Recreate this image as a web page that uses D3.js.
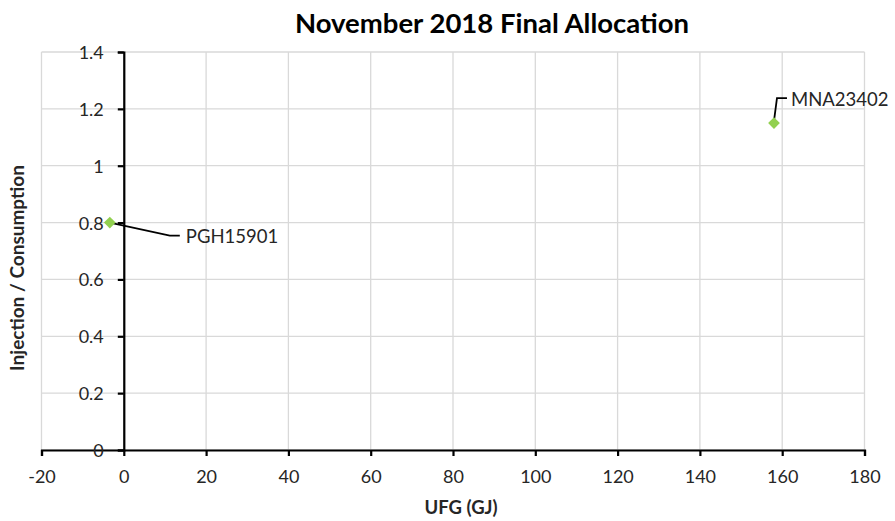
<!DOCTYPE html>
<html><head><meta charset="utf-8">
<script src="https://cdn.jsdelivr.net/npm/d3@7"></script>
<style>body{margin:0;background:#fff;} text{font-family:Lato,"Open Sans",sans-serif;}</style>
</head><body><svg id="c" width="895" height="521"></svg>
<script>
const names = ["PGH15901", "MNA23402"];
const ufg = [-3.4, 158];
const ratio = [0.80, 1.15];
const xTicks = [-20, 0, 20, 40, 60, 80, 100, 120, 140, 160, 180];
const yTicks = [0, 0.2, 0.4, 0.6, 0.8, 1, 1.2, 1.4];

const svg = d3.select("#c");
const x = d3.scaleLinear().domain([-20, 180]).range([41.5, 864.5]);
const y = d3.scaleLinear().domain([0, 1.4]).range([450, 52]);

// grid
svg.append("g").selectAll("line").data(xTicks).join("line")
  .attr("x1", d => x(d)).attr("x2", d => x(d)).attr("y1", y(0)).attr("y2", y(1.4))
  .attr("stroke", "#d9d9d9").attr("stroke-width", 1.3);
svg.append("g").selectAll("line").data(yTicks).join("line")
  .attr("x1", x(-20)).attr("x2", x(180)).attr("y1", d => y(d)).attr("y2", d => y(d))
  .attr("stroke", "#d9d9d9").attr("stroke-width", 1.3);

// axes
const fmt = d => String(+(+d).toFixed(1));
const xAxis = svg.append("g").attr("transform", `translate(0,${y(0)})`)
  .call(d3.axisBottom(x).tickValues(xTicks).tickSize(6).tickPadding(14).tickFormat(fmt));
const yAxis = svg.append("g").attr("transform", `translate(${x(0)},0)`)
  .call(d3.axisLeft(y).tickValues(yTicks).tickSize(6).tickPadding(14).tickFormat(fmt));
[xAxis, yAxis].forEach(g => {
  g.select(".domain").attr("stroke", "#000").attr("stroke-width", 2.2);
  g.selectAll(".tick line").attr("stroke", "#000").attr("stroke-width", 2.2);
  g.selectAll(".tick text").attr("fill", "#262626").style("font-size", "18px").style("font-family", "Lato, 'Open Sans', sans-serif");
});
yAxis.selectAll(".tick text").attr("dy", "0.36em");

// leader lines
const pts = names.map((n, i) => ({n, x: ufg[i], y: ratio[i]}));
const p0 = pts[0], p1 = pts[1];
svg.append("path").attr("fill", "none").attr("stroke", "#000").attr("stroke-width", 1.8)
  .attr("d", `M${x(p0.x)},${y(p0.y)} L${x(p0.x)+60},${y(p0.y)+13} L${x(p0.x)+70},${y(p0.y)+13}`);
svg.append("path").attr("fill", "none").attr("stroke", "#000").attr("stroke-width", 1.8)
  .attr("d", `M${x(p1.x)},${y(p1.y)-2} L${x(p1.x)+3},${y(p1.y)-25} L${x(p1.x)+13},${y(p1.y)-25}`);

// points
svg.append("g").selectAll("path").data(pts).join("path")
  .attr("transform", d => `translate(${x(d.x)},${y(d.y)})`)
  .attr("d", d3.symbol().type(d3.symbolDiamond2).size(88))
  .attr("fill", "#92d050");

// labels
svg.append("text").attr("x", x(p0.x) + 76).attr("y", y(p0.y) + 20).text(p0.n)
  .style("font-size", "18.5px").attr("fill", "#262626");
svg.append("text").attr("x", x(p1.x) + 17).attr("y", y(p1.y) - 17).text(p1.n)
  .style("font-size", "18.5px").attr("fill", "#262626");

// titles
svg.append("text").attr("x", 492).attr("y", 33).attr("text-anchor", "middle")
  .style("font-size", "27.5px").style("font-weight", "bold").attr("fill", "#000")
  .text("November 2018 Final Allocation");
svg.append("text").attr("x", 461).attr("y", 514).attr("text-anchor", "middle")
  .style("font-size", "18.5px").style("font-weight", "bold").attr("fill", "#262626")
  .text("UFG (GJ)");
svg.append("text").attr("transform", "translate(24,268) rotate(-90)").attr("text-anchor", "middle")
  .style("font-size", "19px").style("font-weight", "bold").attr("fill", "#262626")
  .text("Injection / Consumption");
</script></body></html>
